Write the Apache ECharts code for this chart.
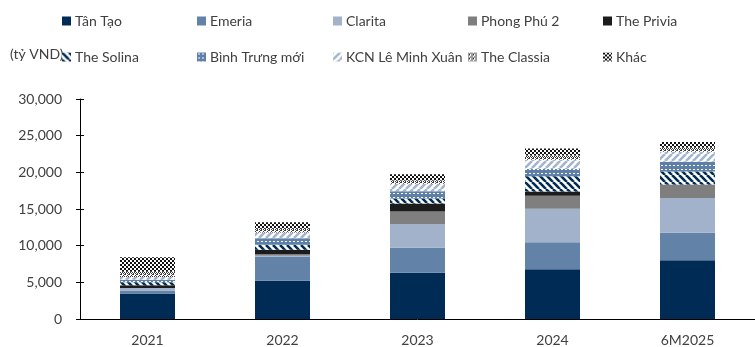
<!DOCTYPE html>
<html>
<head>
<meta charset="utf-8">
<script src="https://cdn.jsdelivr.net/npm/echarts@6/dist/echarts.min.js"></script>
<style>
html,body{margin:0;padding:0;background:#fff;}
#chart{width:755px;height:347px;}
</style>
</head>
<body>
<div id="chart"></div>
<script>
// ---- data ----
const categories = ['2021', '2022', '2023', '2024', '6M2025'];
const seriesNames = ['Tân Tạo', 'Emeria', 'Clarita', 'Phong Phú 2', 'The Privia', 'The Solina', 'Bình Trưng mới', 'KCN Lê Minh Xuân', 'The Classia', 'Khác'];
const tanTao       = [3480, 5220, 6300, 6800, 8000];
const emeria       = [400, 3300, 3400, 3650, 3750];
const clarita      = [350, 120, 3250, 4600, 4750];
const phongPhu2    = [0, 180, 1700, 1750, 1800];
const thePrivia    = [370, 620, 1100, 600, 50];
const theSolina    = [400, 680, 680, 2050, 1750];
const binhTrungMoi = [350, 900, 1000, 1000, 1350];
const kcnLeMinhXuan= [380, 770, 1000, 1250, 1350];
const theClassia   = [700, 500, 450, 600, 550];
const khac         = [2000, 900, 850, 950, 800];
const yTicks = [0, 5000, 10000, 15000, 20000, 25000, 30000];
const unitLabel = '(tỷ VND)';

const seriesData = [tanTao, emeria, clarita, phongPhu2, thePrivia, theSolina, binhTrungMoi, kcnLeMinhXuan, theClassia, khac];

const FONT = 'Lato';

// ---- pattern tiles ----
function tile(w, h, draw) {
  const c = document.createElement('canvas');
  c.width = w; c.height = h;
  const ctx = c.getContext('2d');
  draw(ctx, w, h);
  return { image: c, repeat: 'repeat' };
}
function diag(color, bg, dir, size, lw) {
  return tile(size, size, (ctx, w, h) => {
    ctx.fillStyle = bg; ctx.fillRect(0, 0, w, h);
    ctx.strokeStyle = color; ctx.lineWidth = lw;
    for (let k = -1; k <= 1; k++) {
      ctx.beginPath();
      if (dir === 'back') { ctx.moveTo(k * w, 0); ctx.lineTo(k * w + w, h); }
      else { ctx.moveTo(k * w, h); ctx.lineTo(k * w + w, 0); }
      ctx.stroke();
    }
  });
}
const solinaFill = diag('#002b55', '#ffffff', 'back', 7, 2.6);
const kcnFill = diag('#a3b5cf', '#ffffff', 'fwd', 7, 2.6);
const binhFill = tile(4, 4, (ctx) => {
  ctx.fillStyle = '#5d7fa8'; ctx.fillRect(0, 0, 4, 4);
  ctx.fillStyle = '#ffffff'; ctx.fillRect(1, 1, 2, 1);
});
const classiaFill = tile(4, 4, (ctx) => {
  ctx.fillStyle = '#ffffff'; ctx.fillRect(0, 0, 4, 4);
  ctx.fillStyle = '#3a3a3a';
  ctx.fillRect(0, 0, 1, 1); ctx.fillRect(2, 0, 1, 1);
  ctx.fillRect(1, 1, 1, 1); ctx.fillRect(3, 1, 1, 1);
  ctx.fillRect(0, 2, 2, 1); ctx.fillRect(3, 3, 1, 1);
});
const khacFill = tile(4, 4, (ctx) => {
  ctx.fillStyle = '#ffffff'; ctx.fillRect(0, 0, 4, 4);
  ctx.fillStyle = '#111111'; ctx.fillRect(0, 0, 2, 2); ctx.fillRect(2, 2, 2, 2);
});

const fills = ['#002b55', '#6282a8', '#a2b2cb', '#7f7f7f', '#1c1c1c', solinaFill, binhFill, kcnFill, classiaFill, khacFill];

// ---- legend layout ----
const legendX = [62, 197, 333, 468, 603];
const legendY = [14, 50];
const legends = seriesNames.map((n, i) => ({
  data: [n],
  left: legendX[i % 5],
  top: legendY[Math.floor(i / 5)],
  padding: 0,
  itemWidth: 9,
  itemHeight: 9,
  itemGap: 4,
  icon: 'rect',
  selectedMode: false,
  textStyle: { fontFamily: FONT, fontSize: 14, color: '#404040', padding: [0, 0, 0, -1] }
}));

const chart = echarts.init(document.getElementById('chart'), null, { renderer: 'canvas' });
chart.setOption({
  animation: false,
  backgroundColor: '#ffffff',
  textStyle: { fontFamily: FONT },
  legend: legends,
  graphic: [{
    type: 'text', left: 10, top: 47,
    style: { text: unitLabel, font: '14px ' + FONT, fill: '#404040' }
  }],
  grid: { left: 80, top: 99, width: 687, height: 220 },
  xAxis: {
    type: 'category',
    data: categories,
    axisLine: { lineStyle: { color: '#000000', width: 1 } },
    axisTick: { inside: true, length: 5, lineStyle: { color: '#000000' } },
    axisLabel: { color: '#404040', fontSize: 14, margin: 14, fontFamily: FONT }
  },
  yAxis: [{
    type: 'value', min: yTicks[0], max: yTicks[yTicks.length - 1], interval: yTicks[1] - yTicks[0],
    axisLine: { show: true, lineStyle: { color: '#000000' } },
    axisTick: { show: true, length: 4, lineStyle: { color: '#000000' } },
    splitLine: { show: false },
    axisLabel: { color: '#404040', fontSize: 14, margin: 18, fontFamily: FONT,
      formatter: v => v.toLocaleString('en-US') }
  }, {
    type: 'value', position: 'left', min: yTicks[0], max: yTicks[yTicks.length - 1], interval: yTicks[1] - yTicks[0],
    axisLine: { show: false },
    axisTick: { show: true, inside: true, length: 4, lineStyle: { color: '#000000' } },
    splitLine: { show: false },
    axisLabel: { show: false }
  }],
  series: seriesNames.map((n, i) => ({
    name: n,
    type: 'bar',
    stack: 'total',
    barWidth: 55,
    data: seriesData[i],
    itemStyle: { color: fills[i] }
  }))
});
</script>
</body>
</html>
